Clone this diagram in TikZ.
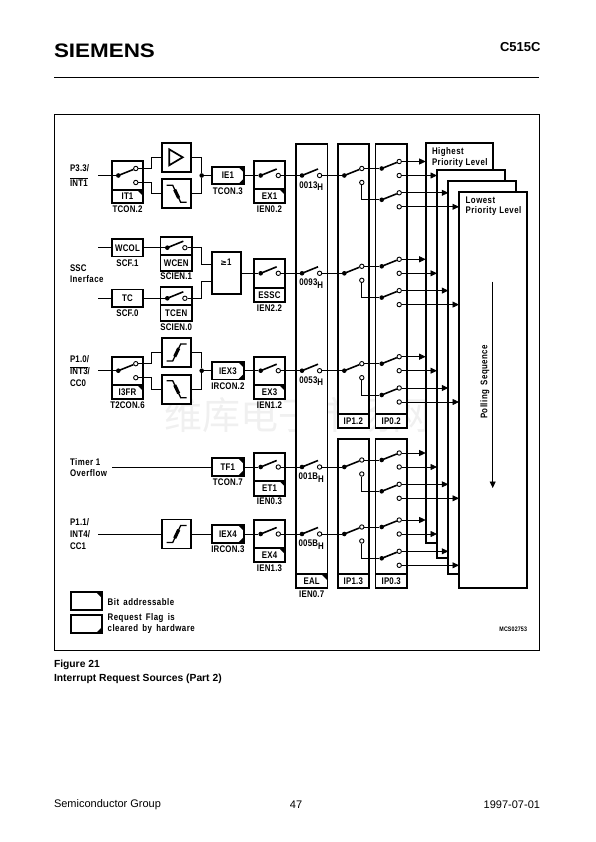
\documentclass[tikz,border=0pt]{standalone}
\usepackage{fontspec}
\setmainfont{Liberation Sans}
\newfontfamily\dgmfont[FakeStretch=0.82,LetterSpace=2]{Liberation Sans}
\newfontfamily\widefont[FakeStretch=0.82,LetterSpace=5]{Liberation Sans}
\newfontfamily\logofont[FakeStretch=1.15]{Liberation Sans}
\newfontfamily\wmfont{Noto Sans CJK SC}
\usetikzlibrary{arrows.meta, positioning}

% switch box with its flag part and the register name below
\newcommand{\swbox}[8][]{%
  \node[box, anchor=north, minimum width=31.3pt, minimum height=#5pt] (#2) at (#3,#4) {};
  \node[box, lbl, #1, below=0pt of #2, minimum width=31.3pt, minimum height=#6pt] (#2lo) {#7};
  \node[lbl, below=2.5pt of #2lo] (#2sub) {#8};
}
% open switch
\newcommand{\openswitch}[3]{%
  \node[swdot] (#1d) at (#2,#3) {};
  \node[contact] (#1c) at (#2+17.6,#3) {};
  \draw[swarm] (#1d.center) -- ++(16,-6.5);
}
% change-over switch
\newcommand{\selswitch}[3]{%
  \node[swdot] (#1d) at (#2,#3) {};
  \node[contact] (#1u) at (#2+17.5,#3-7) {};
  \node[contact] (#1l) at (#2+17.5,#3+7) {};
  \draw[swarm] (#1d.center) -- (#1u);
}

\begin{document}
\begin{tikzpicture}[
    x=1pt, y=-1pt,
    font=\dgmfont\bfseries\fontsize{9.6}{10}\selectfont,
    box/.style={draw, line width=1.7pt, fill=white, inner sep=0pt, outer sep=0pt, align=center},
    lbl/.style={inner sep=0pt, outer sep=0pt, align=center},
    txt/.style={inner sep=0pt, outer sep=0pt, anchor=west, align=left},
    widetxt/.style={txt, font=\widefont\bfseries\fontsize{9.6}{10}\selectfont},
    page/.style={inner sep=0pt, outer sep=0pt, font=\normalfont\fontsize{11}{12}\selectfont},
    wire/.style={line width=0.8pt},
    outwire/.style={line width=0.8pt, -{Triangle[length=6.5pt,width=6pt]}},
    swarm/.style={line width=1.6pt},
    swdot/.style={circle, fill, inner sep=0pt, minimum size=4.6pt},
    contact/.style={circle, draw, line width=0.9pt, fill=white, inner sep=0pt, minimum size=4.4pt},
    gate/.style={box, minimum width=29pt, minimum height=29pt},
    flagbox/.style={box, minimum width=32.3pt, minimum height=17.6pt},
    bitflag/.style={path picture={\fill[black] (path picture bounding box.north east) -- ++(-6pt,0pt) -- ++(6pt,-6pt) -- cycle;}},
    reqflag/.style={path picture={\fill[black] (path picture bounding box.south east) -- ++(-6pt,0pt) -- ++(6pt,6pt) -- cycle;}},
    bothflag/.style={path picture={
        \fill[black] (path picture bounding box.north east) -- ++(-6pt,0pt) -- ++(6pt,-6pt) -- cycle;
        \fill[black] (path picture bounding box.south east) -- ++(-6pt,0pt) -- ++(6pt,6pt) -- cycle;}},
    bufsym/.style={path picture={
        \draw[line width=1.7pt] (path picture bounding box.center) ++(-7pt,8pt) -- ++(13.5pt,-8pt) -- ++(-13.5pt,-8pt) -- cycle;}},
    fallsym/.style={path picture={
        \draw[line width=1.3pt] (path picture bounding box.center) ++(-9.5pt,8.5pt) -- ++(6pt,0pt) -- ++(8pt,-17pt) -- ++(6pt,0pt);
        \draw[line width=3.2pt] (path picture bounding box.center) ++(-1.5pt,4.2pt) -- ++(4pt,-8.4pt);}},
    risesym/.style={path picture={
        \draw[line width=1.3pt] (path picture bounding box.center) ++(-9.5pt,-8.5pt) -- ++(6pt,0pt) -- ++(8pt,17pt) -- ++(6pt,0pt);
        \draw[line width=3.2pt] (path picture bounding box.center) ++(-1.5pt,-4.2pt) -- ++(4pt,8.4pt);}},
    stackbox/.style={box, anchor=north west}
]
\useasboundingbox (0,0) rectangle (595,842);

% -- watermark --
\node[page, font=\wmfont\fontsize{38}{38}\selectfont, text=black!6] (wmark) at (297,415) {维库电子市场网};

% -- page head and foot --
\node[page, anchor=west, font=\logofont\bfseries\fontsize{19.5}{20}\selectfont] (logo) at (54,50.5) {SIEMENS};
\node[page, anchor=east, font=\bfseries\fontsize{13}{14}\selectfont] (chip) at (540.5,47.5) {C515C};
\coordinate (rulel) at (54,77.7);
\coordinate (ruler) at (539,77.7);
\draw[line width=0.7pt] (rulel) -- (ruler);
\node[draw, line width=0.7pt, inner sep=0pt, anchor=north west, minimum width=485pt, minimum height=536pt] (frame) at (54,114) {};
\node[page, anchor=west, font=\bfseries\fontsize{10.3}{11}\selectfont] (figno) at (54,665) {Figure 21};
\node[page, anchor=west, font=\bfseries\fontsize{10.3}{11}\selectfont] (figcap) at (54,679) {Interrupt Request Sources (Part 2)};
\node[page, anchor=west] (footl) at (54,805) {Semiconductor Group};
\node[page] (footm) at (296,805) {47};
\node[page, anchor=east] (footr) at (540,805) {1997-07-01};

% -- right side: enable and priority columns --
\swbox[bitflag]{colea}{311.7}{144}{430.3}{14}{EAL}{IEN0.7}
\foreach \c/\xc/\ytop/\h/\t in {ipb/353.3/144/270.3/IP1.2, ipa/391.2/144/270.3/IP0.2, ipd/353.3/439/135.3/IP1.3, ipc/391.2/439/135.3/IP0.3}
{
  \node[box, anchor=north, minimum width=31.3pt, minimum height=\h pt] (\c) at (\xc,\ytop) {};
  \node[box, lbl, below=0pt of \c, minimum width=31.3pt, minimum height=14pt] (\c lo) {\t};
}

% -- priority level stack --
\node[stackbox, minimum width=67.3pt, minimum height=399.4pt] (stacka) at (425.7,143.3) {};
\node[stackbox, minimum width=68pt, minimum height=388.3pt] (stackb) at (437,170) {};
\node[stackbox, minimum width=67.4pt, minimum height=392.7pt] (stackc) at (448.3,181) {};
\node[stackbox, minimum width=68pt, minimum height=396pt] (stackd) at (459,192.3) {};
\node[widetxt] (hilbl) at (432,152) {Highest};
\node[widetxt] (hilblb) at (432,162.7) {Priority Level};
\node[widetxt] (lolbl) at (465.7,200.7) {Lowest};
\node[widetxt] (lolblb) at (465.7,211) {Priority Level};
\node[widetxt, anchor=center, rotate=90] (pollbl) at (485,382) {Polling\, Sequence};
\coordinate (polla) at (492.7,281.7);
\coordinate (pollb) at (492.7,488);
\draw[outwire] (polla) -- (pollb);

% -- the five rows through the columns --
\foreach \r/\y/\addr in {a/175.5/0013, b/273.3/0093, c/370.7/0053, d/467/001B, e/534/005B}
{
  \openswitch{ea\r}{302}{\y}
  \node[lbl] (addr\r) at (311.2,\y+10.5) {\addr\raisebox{-2.5pt}{H}};
  \selswitch{ph\r}{344.3}{\y}
  \selswitch{hi\r}{381.7}{\y-7}
  \selswitch{lo\r}{381.7}{\y+24.3}
  \draw[wire] (ea\r c) -- (ph\r d);
  \draw[wire] (ph\r u) -- (hi\r d);
  \draw[wire] (ph\r l) |- (lo\r d);
  \draw[outwire] (hi\r u) -- (hi\r u -| stacka.west);
  \draw[outwire] (hi\r l) -- (hi\r l -| stackb.west);
  \draw[outwire] (lo\r u) -- (lo\r u -| stackc.west);
  \draw[outwire] (lo\r l) -- (lo\r l -| stackd.west);
}

% -- row 1: P3.3 --
\node[txt] (lblpa) at (70,168) {P3.3/};
\node[txt] (lblpb) at (70,182) {$\overline{\mbox{INT1}}$};
\coordinate (ina) at (98,175.5);
\swbox[bitflag]{it}{127.5}{161}{29}{13}{IT1}{TCON.2}
\selswitch{its}{118.3}{175.5}
\node[gate, bufsym] (gatea) at (176.2,157.3) {};
\node[gate, fallsym] (gateb) at (176.2,193.8) {};
\node[swdot] (mrga) at (201.7,175.5) {};
\node[flagbox, bothflag] (iea) at (227.9,175.5) {IE1};
\node[lbl, below=3pt of iea] (ieasub) {TCON.3};
\swbox[bitflag]{ena}{269.5}{161}{28}{14}{EX1}{IEN0.2}
\openswitch{ens}{260.7}{175.5}
\draw[wire] (ina) -- (itsd);
\draw[wire] (itsu) -- (itsu -| 151.7,0) |- (gatea.west);
\draw[wire] (itsl) -- (itsl -| 151.7,0) |- (gateb.west);
\draw[wire] (gatea.east) -| (mrga);
\draw[wire] (gateb.east) -| (mrga);
\draw[wire] (mrga) -- (iea.west);
\draw[wire] (iea.east) -- (ensd);
\draw[wire] (ensc) -- (eaad);

% -- row 2: SSC --
\node[txt] (lblsa) at (70,268) {SSC};
\node[widetxt] (lblsb) at (70,279) {Inerface};
\coordinate (inba) at (98,247.7);
\coordinate (inbb) at (98,298.3);
\node[box, minimum width=31.6pt, minimum height=17.4pt] (wcol) at (127.5,247.7) {WCOL};
\node[lbl, below=3pt of wcol] (wcolsub) {SCF.1};
\node[box, minimum width=31.6pt, minimum height=17.4pt] (tc) at (127.5,298.3) {TC};
\node[lbl, below=3pt of tc] (tcsub) {SCF.0};
\swbox{wcen}{176.2}{236.7}{18.3}{15.7}{WCEN}{SCIEN.1}
\openswitch{wcs}{167.3}{247.7}
\swbox{tcen}{176.2}{286.7}{18.3}{16}{TCEN}{SCIEN.0}
\openswitch{tcs}{167.3}{298.3}
\node[box, minimum width=29.3pt, minimum height=42.6pt] (orgate) at (226.3,273) {};
\node[lbl] (orlbl) at (226,261.7) {\fontspec{DejaVu Sans}\fontsize{8}{9}\selectfont≥\dgmfont\bfseries\fontsize{9.6}{10}\selectfont 1};
\swbox{enb}{269.5}{259}{29.3}{13.7}{ESSC}{IEN2.2}
\openswitch{ensb}{260.7}{273.3}
\draw[wire] (inba) -- (wcol.west);
\draw[wire] (inbb) -- (tc.west);
\draw[wire] (wcol.east) -- (wcsd);
\draw[wire] (tc.east) -- (tcsd);
\draw[wire] (wcsc) -- (wcsc -| 201.7,0) |- ([yshift=8.7pt]orgate.west);
\draw[wire] (tcsc) -- (tcsc -| 201.7,0) |- ([yshift=-8pt]orgate.west);
\draw[wire] (orgate.east |- ensbd) -- (ensbd);
\draw[wire] (ensbc) -- (eabd);

% -- row 3: P1.0 --
\node[txt] (lblca) at (70,359) {P1.0/};
\node[txt] (lblcb) at (70,370.7) {$\overline{\mbox{INT3}}$/};
\node[txt] (lblcc) at (70,382.7) {CC0};
\coordinate (inc) at (98,370.7);
\swbox[bitflag]{ifr}{127.5}{356.7}{28.3}{14}{I3FR}{T2CON.6}
\selswitch{ifs}{118.3}{370.7}
\node[gate, risesym] (gatec) at (176.2,352.5) {};
\node[gate, fallsym] (gated) at (176.2,389.2) {};
\node[swdot] (mrgc) at (201.7,370.7) {};
\node[flagbox, bothflag] (iec) at (227.9,370.7) {IEX3};
\node[lbl, below=3pt of iec] (iecsub) {IRCON.2};
\swbox[bitflag]{enc}{269.5}{356.7}{28.3}{14}{EX3}{IEN1.2}
\openswitch{ensc}{260.7}{370.7}
\draw[wire] (inc) -- (ifsd);
\draw[wire] (ifsu) -- (ifsu -| 151.7,0) |- (gatec.west);
\draw[wire] (ifsl) -- (ifsl -| 151.7,0) |- (gated.west);
\draw[wire] (gatec.east) -| (mrgc);
\draw[wire] (gated.east) -| (mrgc);
\draw[wire] (mrgc) -- (iec.west);
\draw[wire] (iec.east) -- (enscd);
\draw[wire] (enscc) -- (eacd);

% -- row 4: Timer 1 --
\node[widetxt] (lblta) at (70,461.7) {Timer 1};
\node[widetxt] (lbltb) at (70,473.3) {Overflow};
\coordinate (ind) at (112.3,467);
\node[flagbox, bothflag] (ied) at (227.9,467) {TF1};
\node[lbl, below=3pt of ied] (iedsub) {TCON.7};
\swbox[bitflag]{end}{269.5}{452.7}{28}{15}{ET1}{IEN0.3}
\openswitch{ensd}{260.7}{467}
\draw[wire] (ind) -- (ied.west);
\draw[wire] (ied.east) -- (ensdd);
\draw[wire] (ensdc) -- (eadd);

% -- row 5: P1.1 --
\node[txt] (lblea) at (70,522.3) {P1.1/};
\node[txt] (lbleb) at (70,534) {INT4/};
\node[txt] (lblec) at (70,546) {CC1};
\coordinate (ine) at (98,534);
\node[gate, risesym] (gatee) at (176.2,534) {};
\node[flagbox, bothflag] (iee) at (227.9,534) {IEX4};
\node[lbl, below=3pt of iee] (ieesub) {IRCON.3};
\swbox[bitflag]{ene}{269.5}{520}{28.3}{14}{EX4}{IEN1.3}
\openswitch{ense}{260.7}{534}
\draw[wire] (ine) -- (gatee.west);
\draw[wire] (gatee.east) -- (iee.west);
\draw[wire] (iee.east) -- (ensed);
\draw[wire] (ensec) -- (eaed);

% -- legend --
\node[box, bitflag, anchor=north west, minimum width=31.6pt, minimum height=17.7pt] (legbit) at (70.7,592.3) {};
\node[box, reqflag, anchor=north west, minimum width=31.6pt, minimum height=17.7pt] (legreq) at (70.7,615) {};
\node[widetxt] (legbita) at (107.7,601.7) {Bit\, addressable};
\node[widetxt] (legreqa) at (107.7,618.3) {Request\, Flag\, is};
\node[widetxt] (legreqb) at (107.7,629.3) {cleared\, by\, hardware};
\node[lbl, anchor=east, font=\dgmfont\bfseries\fontsize{6.5}{7}\selectfont] (mcsno) at (527,629) {MCS02753};

\end{tikzpicture}
\end{document}
